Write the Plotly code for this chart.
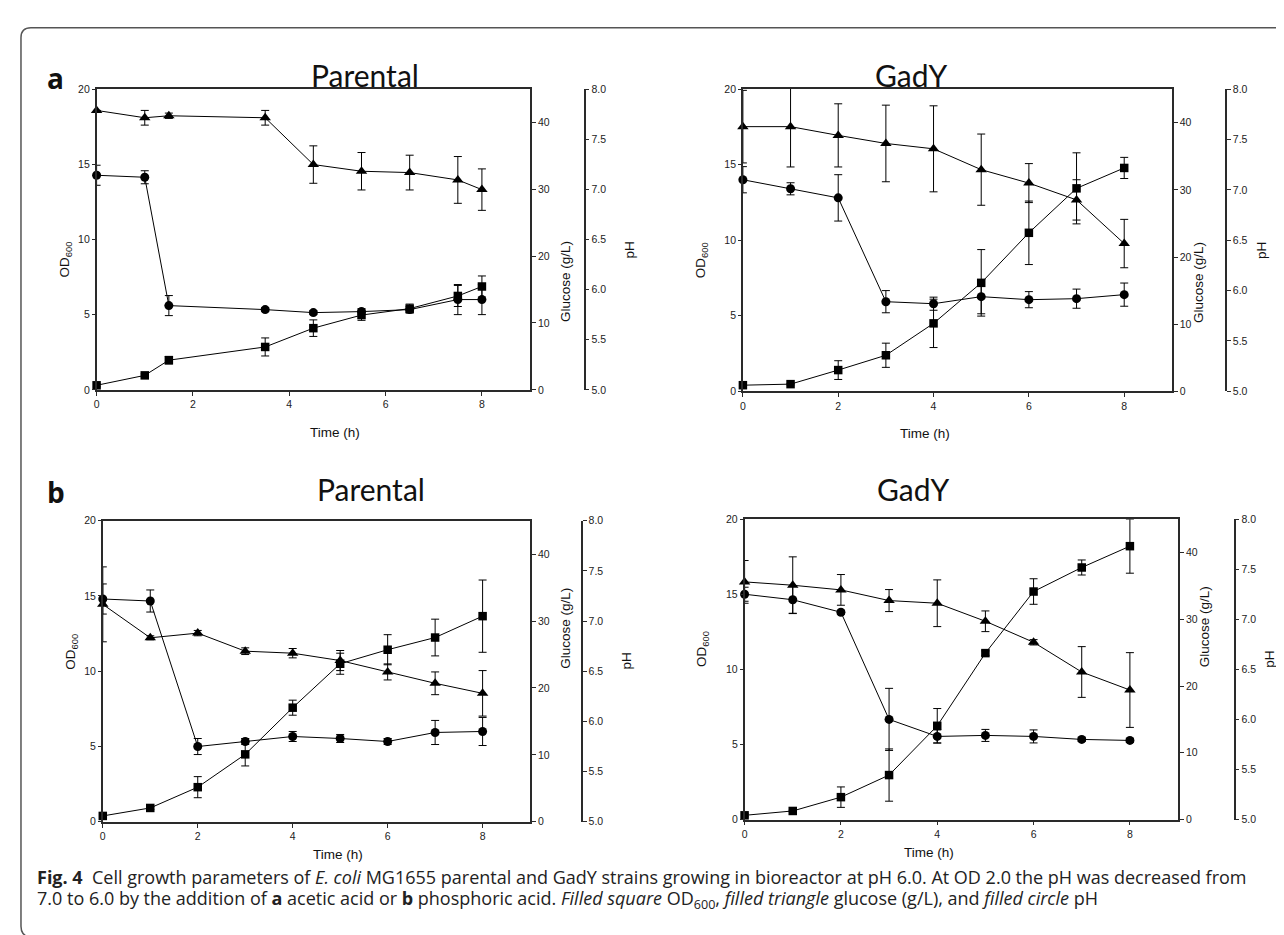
import plotly.graph_objects as go

# ---------------- data ----------------
# panel a (acetic acid) - Parental
a_par_time = [0, 1, 1.5, 3.5, 4.5, 5.5, 6.5, 7.5, 8]
a_par_od = [0.3, 0.96, 1.97, 2.85, 4.1, 4.97, 5.4, 6.24, 6.87]
a_par_od_err = [0.1, 0.1, 0.25, 0.6, 0.55, 0.35, 0.3, 0.7, 0.7]
a_par_glc = [41.8, 40.7, 41.0, 40.7, 33.7, 32.7, 32.5, 31.4, 29.95]
a_par_glc_err = [0.0, 1.1, 0.4, 1.1, 2.8, 2.8, 2.6, 3.5, 3.1]
a_par_ph = [7.14, 7.12, 5.84, 5.80, 5.77, 5.78, 5.80, 5.90, 5.90]
a_par_ph_err = [0.1, 0.065, 0.1, 0.02, 0.02, 0.03, 0.03, 0.15, 0.15]

# panel a (acetic acid) - GadY
a_gad_time = [0, 1, 2, 3, 4, 5, 6, 7, 8]
a_gad_od = [0.41, 0.48, 1.41, 2.39, 4.5, 7.18, 10.49, 13.43, 14.78]
a_gad_od_err = [0.1, 0.05, 0.62, 0.8, 1.6, 2.2, 2.1, 2.35, 0.7]
a_gad_glc = [39.4, 39.4, 38.1, 36.9, 36.1, 33.0, 31.0, 28.5, 22.0]
a_gad_glc_err = [5.4, 6.0, 4.7, 5.7, 6.4, 5.3, 2.9, 3.0, 3.6]
a_gad_ph = [7.10, 7.01, 6.92, 5.89, 5.87, 5.94, 5.91, 5.92, 5.96]
a_gad_ph_err = [0.13, 0.06, 0.23, 0.11, 0.065, 0.17, 0.08, 0.095, 0.115]

# panel b (phosphoric acid) - Parental
b_par_time = [0, 1, 2, 3, 4, 5, 6, 7, 8]
b_par_od = [0.39, 0.92, 2.3, 4.48, 7.58, 10.5, 11.43, 12.24, 13.66]
b_par_od_err = [0.1, 0.1, 0.7, 0.77, 0.5, 0.7, 1.0, 1.22, 2.4]
b_par_glc = [32.5, 27.5, 28.2, 25.5, 25.2, 24.1, 22.4, 20.7, 19.2]
b_par_glc_err = [5.6, 0.3, 0.4, 0.5, 0.7, 1.5, 1.2, 1.7, 3.4]
b_par_ph = [7.22, 7.20, 5.75, 5.80, 5.85, 5.83, 5.80, 5.89, 5.90]
b_par_ph_err = [0.15, 0.11, 0.08, 0.03, 0.05, 0.04, 0.03, 0.12, 0.14]

# panel b (phosphoric acid) - GadY
b_gad_time = [0, 1, 2, 3, 4, 5, 6, 7, 8]
b_gad_od = [0.28, 0.57, 1.49, 2.96, 6.24, 11.08, 15.18, 16.78, 18.2]
b_gad_od_err = [0.1, 0.05, 0.68, 1.74, 1.15, 0.15, 0.85, 0.5, 1.8]
b_gad_glc = [35.6, 35.1, 34.4, 32.8, 32.4, 29.7, 26.55, 22.1, 19.4]
b_gad_glc_err = [3.2, 4.25, 2.3, 1.65, 3.5, 1.55, 0.4, 3.8, 5.6]
b_gad_ph = [7.25, 7.195, 7.07, 6.0, 5.83, 5.84, 5.83, 5.80, 5.79]
b_gad_ph_err = [0.07, 0.135, 0.02, 0.31, 0.065, 0.06, 0.065, 0.02, 0.02]

titles = ["Parental", "GadY", "Parental", "GadY"]
x_ticks = [0, 2, 4, 6, 8]
od_ticks = [0, 5, 10, 15, 20]
glc_ticks = [0, 10, 20, 30, 40]
ph_ticks = [5.0, 5.5, 6.0, 6.5, 7.0, 7.5, 8.0]

panels = [
    (a_par_time, a_par_od, a_par_od_err, a_par_glc, a_par_glc_err, a_par_ph, a_par_ph_err),
    (a_gad_time, a_gad_od, a_gad_od_err, a_gad_glc, a_gad_glc_err, a_gad_ph, a_gad_ph_err),
    (b_par_time, b_par_od, b_par_od_err, b_par_glc, b_par_glc_err, b_par_ph, b_par_ph_err),
    (b_gad_time, b_gad_od, b_gad_od_err, b_gad_glc, b_gad_glc_err, b_gad_ph, b_gad_ph_err),
]

# ---------------- layout geometry (pixels) ----------------
W, H = 1284, 935
def px(x):
    return x / W
def py(y):
    return 1 - y / H

# (left, right, top, bottom, pH-axis x)
boxes = [
    (85.8, 520.3, 76, 380.7, 575.0),
    (733.6, 1163.6, 76, 382.3, 1217.8),
    (92.0, 520.3, 513.3, 818.3, 572.1),
    (735.3, 1169.8, 511.7, 816.0, 1226.4),
]

AX_COL = "#2a2a2a"
TICK_FONT = dict(family="Liberation Sans, Arial, sans-serif", size=10.5, color="#222")
LBL_FONT = dict(family="Liberation Sans, Arial, sans-serif", size=13.5, color="#111")

fig = go.Figure()
layout = {}
annotations = []

for i, (box, data) in enumerate(zip(boxes, panels)):
    l, r, t, b, phx = box
    t_, od, od_e, glc, glc_e, ph, ph_e = data
    xn = "x" if i == 0 else f"x{i+1}"
    y_od = f"y{3*i+1}" if i > 0 else "y"
    y_glc = f"y{3*i+2}"
    y_ph = f"y{3*i+3}"

    xkey = "xaxis" if i == 0 else f"xaxis{i+1}"
    layout[xkey] = dict(
        domain=[px(l), px(r)], range=[0, 9], anchor=y_od,
        tickvals=x_ticks, ticks="outside", ticklen=4, tickwidth=1, tickcolor=AX_COL,
        showline=True, linecolor=AX_COL, linewidth=1.5, mirror=True,
        showgrid=False, zeroline=False, tickfont=TICK_FONT, fixedrange=True,
    )
    odkey = "yaxis" if i == 0 else f"yaxis{3*i+1}"
    layout[odkey] = dict(
        domain=[py(b), py(t)], range=[0, 20], anchor=xn,
        tickvals=od_ticks, ticks="outside", ticklen=3, tickwidth=1, tickcolor=AX_COL,
        showline=True, linecolor=AX_COL, linewidth=1.5,
        showgrid=False, zeroline=False, tickfont=TICK_FONT,
    )
    layout[f"yaxis{3*i+2}"] = dict(
        domain=[py(b), py(t)], range=[0, 45], anchor=xn, overlaying=y_od, side="right",
        tickvals=glc_ticks, ticks="outside", ticklen=4, tickwidth=1, tickcolor=AX_COL,
        showline=True, linecolor=AX_COL, linewidth=1.5,
        showgrid=False, zeroline=False, tickfont=TICK_FONT,
    )
    layout[f"yaxis{3*i+3}"] = dict(
        domain=[py(b), py(t)], range=[5, 8], anchor="free", position=px(phx),
        overlaying=y_od, side="right",
        tickvals=ph_ticks, tickformat=".1f", ticks="outside", ticklen=4, tickwidth=1,
        tickcolor=AX_COL, showline=True, linecolor=AX_COL, linewidth=1.5,
        showgrid=False, zeroline=False, tickfont=TICK_FONT,
    )

    common = dict(mode="lines+markers", line=dict(color="black", width=1), showlegend=False,
                  cliponaxis=False)
    fig.add_trace(go.Scatter(
        x=t_, y=glc, xaxis=xn, yaxis=y_glc,
        marker=dict(symbol="triangle-up", size=10, color="black"),
        error_y=dict(type="data", array=glc_e, color="black", thickness=1, width=4),
        **common))
    fig.add_trace(go.Scatter(
        x=t_, y=ph, xaxis=xn, yaxis=y_ph,
        marker=dict(symbol="circle", size=9, color="black"),
        error_y=dict(type="data", array=ph_e, color="black", thickness=1, width=4),
        **common))
    fig.add_trace(go.Scatter(
        x=t_, y=od, xaxis=xn, yaxis=y_od,
        marker=dict(symbol="square", size=8.5, color="black"),
        error_y=dict(type="data", array=od_e, color="black", thickness=1, width=4),
        **common))

    cy = (t + b) / 2
    cx = (l + r) / 2
    # axis titles
    annotations.append(dict(text="OD<sub>600</sub>", x=px(l - 42), y=py(cy), textangle=-90,
                            font=LBL_FONT, showarrow=False, xref="paper", yref="paper"))
    annotations.append(dict(text="Glucose (g/L)", x=px(r + 36), y=py(cy), textangle=-90,
                            font=LBL_FONT, showarrow=False, xref="paper", yref="paper"))
    annotations.append(dict(text="pH", x=px(phx + 45), y=py(cy), textangle=-90,
                            font=LBL_FONT, showarrow=False, xref="paper", yref="paper"))
    annotations.append(dict(text="Time (h)", x=px(cx - 5), y=py(b + 43),
                            font=LBL_FONT, showarrow=False, xref="paper", yref="paper"))
    # panel title
    ty = 42 if i < 2 else 481
    annotations.append(dict(text=titles[i], x=px(l + 213 if i % 2 == 0 else l + 207), y=py(ty),
                            font=dict(family="Lato, Open Sans, sans-serif", size=30, color="#111"),
                            showarrow=False, xref="paper", yref="paper"))

annotations.append(dict(text="<b>a</b>", x=px(34), y=py(44), showarrow=False,
                        font=dict(family="Open Sans, sans-serif", size=28, color="#111"),
                        xref="paper", yref="paper"))
annotations.append(dict(text="<b>b</b>", x=px(34), y=py(484), showarrow=False,
                        font=dict(family="Open Sans, sans-serif", size=28, color="#111"),
                        xref="paper", yref="paper"))

CAP_FONT = dict(family="Open Sans, sans-serif", size=18, color="#222")
annotations.append(dict(
    text="<b>Fig. 4</b>  Cell growth parameters of <i>E. coli</i> MG1655 parental and GadY strains growing in bioreactor at pH 6.0. At OD 2.0 the pH was decreased from",
    x=px(24), y=py(888), xanchor="left", showarrow=False, font=CAP_FONT, xref="paper", yref="paper"))
annotations.append(dict(
    text="7.0 to 6.0 by the addition of <b>a</b> acetic acid or <b>b</b> phosphoric acid. <i>Filled square</i> OD<sub>600</sub>, <i>filled triangle</i> glucose (g/L), and <i>filled circle</i> pH",
    x=px(24), y=py(913), xanchor="left", showarrow=False, font=CAP_FONT, xref="paper", yref="paper"))

# rounded frame
frame = (f"M {px(1290)},{py(14)} L {px(20)},{py(14)} Q {px(10)},{py(14)} {px(10)},{py(24)} "
         f"L {px(10)},{py(924)} Q {px(10)},{py(933)} {px(18)},{py(935)}")
shapes = [dict(type="path", path=frame, xref="paper", yref="paper",
               line=dict(color="#555", width=1.5))]

fig.update_layout(
    width=W, height=H, margin=dict(l=0, r=0, t=0, b=0),
    paper_bgcolor="white", plot_bgcolor="white",
    annotations=annotations, shapes=shapes, **layout,
)

fig.write_html("out.html")
